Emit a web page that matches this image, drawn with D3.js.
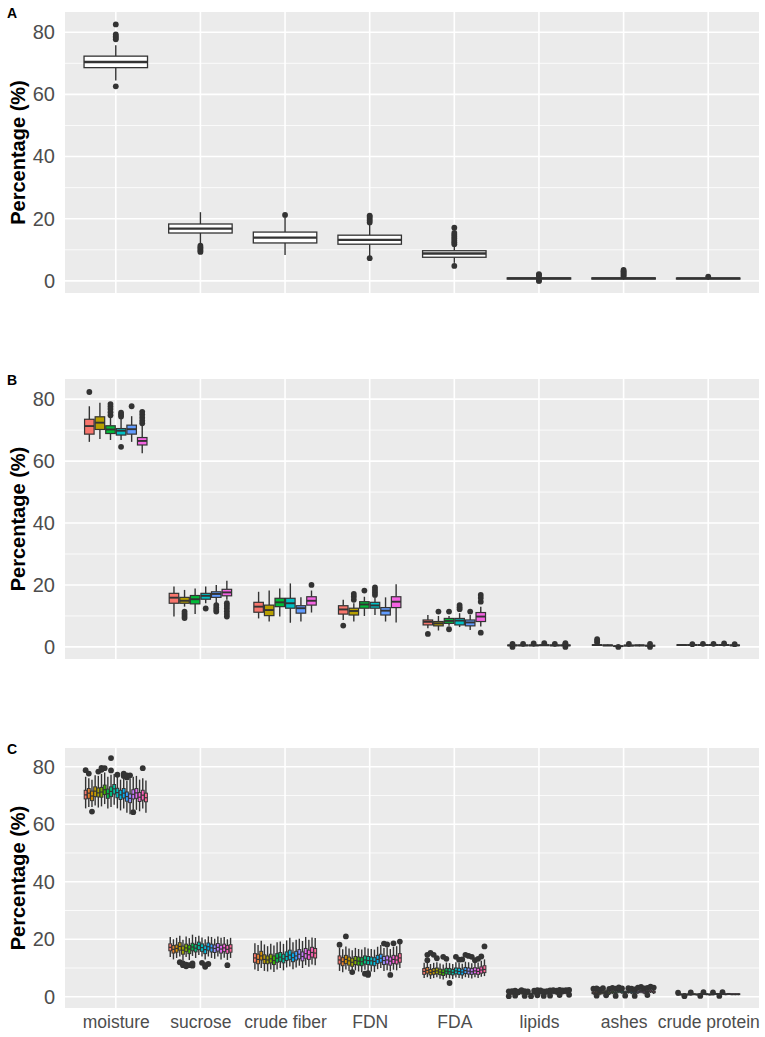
<!DOCTYPE html>
<html>
<head>
<meta charset="utf-8">
<script src="https://cdn.jsdelivr.net/npm/d3@7"></script>
<style>
  html, body { margin: 0; padding: 0; background: #fff; }
  svg { display: block; font-family: "Liberation Sans", Arial, Helvetica, sans-serif; }
</style>
</head>
<body>
<svg id="chart" width="765" height="1037"></svg>
<script>
// ---------------- DATA ----------------
const categories = ["moisture", "sucrose", "crude fiber", "FDN", "FDA", "lipids", "ashes", "crude protein"];
const yTicks = [0, 20, 40, 60, 80];
const yMinor = [10, 30, 50, 70];
const panelLabels = ["A", "B", "C"];
const yTitle = "Percentage (%)";

// Panel A: one box per category  [category]
const loA  = [64.5, 12.0, 8.3, 8.0, 5.8, 0.3, 0.4, 0.4];
const q1A  = [68.6, 15.4, 12.2, 11.8, 7.6, 0.6, 0.6, 0.6];
const medA = [70.4, 16.8, 13.9, 13.2, 8.8, 0.8, 0.8, 0.8];
const q3A  = [72.3, 18.3, 15.7, 14.7, 9.7, 0.95, 0.95, 0.9];
const hiA  = [75.8, 22.1, 20.2, 18.3, 11.5, 1.3, 1.3, 1.2];
const outA = [
  [62.6, 77.7, 78.2, 78.7, 79.3, 82.5],
  [9.3, 9.8, 10.3, 10.8, 11.3],
  [21.2],
  [7.3, 18.8, 19.4, 20.0, 20.6, 21.0],
  [4.8, 11.8, 12.4, 13.0, 13.6, 14.2, 14.8, 15.4, 17.1],
  [0.0, 0.1, 1.6, 1.9, 2.2],
  [1.5, 1.9, 2.3, 2.7, 3.1, 3.5],
  [1.4]
];

// Panel B: six groups per category  [category][group]
const loB = [
  [66.2, 67.1, 66.8, 66.8, 66.2, 62.5],
  [9.8, 13.0, 10.6, 14.1, 14.1, 15.2],
  [9.2, 8.2, 9.8, 7.8, 8.2, 11.1],
  [8.7, 8.2, 10.0, 10.3, 8.2, 7.9],
  [6.0, 5.3, 6.8, 6.4, 5.5, 6.6],
  [0.2, 0.2, 0.2, 0.3, 0.2, 0.2],
  [0.3, 0.3, 0.1, 0.2, 0.2, 0.1],
  [0.3, 0.4, 0.4, 0.4, 0.4, 0.3]
];
const q1B = [
  [68.7, 70.2, 68.9, 68.4, 68.7, 65.2],
  [14.1, 14.1, 13.9, 15.4, 16.0, 16.5],
  [11.2, 10.1, 13.0, 12.5, 10.9, 13.5],
  [10.6, 10.3, 12.5, 12.5, 10.3, 12.7],
  [7.1, 6.8, 7.6, 7.1, 6.8, 8.2],
  [0.4, 0.4, 0.4, 0.45, 0.4, 0.4],
  [0.5, 0.4, 0.2, 0.35, 0.4, 0.3],
  [0.5, 0.55, 0.5, 0.5, 0.5, 0.45]
];
const medB = [
  [71.3, 72.4, 70.2, 69.8, 70.3, 66.5],
  [15.9, 14.9, 15.4, 16.5, 17.1, 17.6],
  [13.0, 11.9, 14.4, 14.1, 12.5, 14.9],
  [12.1, 11.6, 13.7, 13.4, 11.7, 14.6],
  [8.1, 7.6, 8.4, 8.5, 7.9, 9.8],
  [0.5, 0.5, 0.5, 0.55, 0.5, 0.5],
  [0.6, 0.5, 0.25, 0.45, 0.5, 0.4],
  [0.6, 0.6, 0.6, 0.6, 0.6, 0.5]
];
const q3B = [
  [73.5, 74.3, 71.4, 70.5, 71.6, 67.6],
  [17.3, 16.0, 16.6, 17.3, 17.8, 18.6],
  [14.4, 13.5, 15.7, 15.7, 13.3, 16.2],
  [13.3, 12.5, 14.6, 14.4, 12.7, 16.2],
  [8.7, 8.2, 9.2, 9.2, 8.7, 11.1],
  [0.6, 0.6, 0.6, 0.65, 0.6, 0.6],
  [0.7, 0.6, 0.3, 0.55, 0.6, 0.5],
  [0.7, 0.7, 0.7, 0.7, 0.7, 0.6]
];
const hiB = [
  [77.7, 78.8, 74.2, 73.6, 74.5, 71.4],
  [19.5, 18.4, 18.9, 19.5, 20.0, 21.4],
  [17.8, 18.2, 18.9, 20.5, 16.0, 18.2],
  [15.2, 14.1, 16.2, 16.0, 16.0, 20.2],
  [10.3, 10.0, 10.0, 10.9, 10.3, 13.0],
  [0.8, 0.8, 0.8, 0.9, 0.8, 0.8],
  [0.9, 0.8, 0.4, 0.7, 0.8, 0.7],
  [0.9, 0.9, 0.9, 0.9, 0.9, 0.8]
];
const outB = [
  [[82.3], [], [74.8, 75.8, 76.8, 77.6, 78.4], [64.6, 74.4, 75.0, 75.6], [77.7], [72.2, 73.0, 74.0, 75.0, 75.9]],
  [[], [9.3, 10.0, 10.7, 11.4], [], [12.4], [11.4, 12.0, 12.7, 13.5], [9.8, 10.6, 11.5, 12.4, 13.3, 14.1]],
  [[], [], [], [], [], [20.0]],
  [[6.9], [15.2, 16.2, 17.1], [18.2], [16.8, 17.6, 18.4, 19.2], [], []],
  [[4.2], [11.4], [5.7, 11.4], [12.2, 12.8, 13.5], [11.4], [4.6, 14.6, 15.8, 16.8]],
  [[0.0, 1.0], [1.0], [1.1], [1.2], [1.0], [0.0, 0.9, 1.2]],
  [[1.4, 1.9, 2.5], [], [0.0], [1.0], [], [1.0, 0.0]],
  [[], [0.9], [1.0], [1.0], [1.1], [0.9]]
];

// Panel C: twenty groups per category  [category][group]
const loC = [
  [65.5, 66.0, 66.0, 66.5, 65.8, 66.2, 67.0, 65.5, 66.0, 66.8, 65.5, 64.8, 65.5, 64.0, 63.5, 65.0, 65.0, 64.5, 65.5, 64.0],
  [13.8, 13.0, 13.5, 14.0, 12.5, 13.8, 12.8, 14.2, 13.5, 14.5, 14.0, 13.0, 14.0, 13.5, 13.2, 14.0, 13.0, 13.6, 12.8, 13.5],
  [9.5, 9.0, 10.0, 9.0, 8.8, 9.5, 8.6, 9.5, 10.0, 9.2, 10.2, 10.5, 9.6, 10.2, 10.8, 10.0, 11.0, 10.4, 11.2, 11.0],
  [9.0, 8.5, 9.5, 9.0, 9.2, 9.2, 8.8, 8.5, 9.4, 9.0, 8.8, 8.6, 9.6, 10.0, 9.0, 9.2, 8.8, 9.4, 9.2, 10.0],
  [6.5, 6.8, 6.2, 6.5, 6.8, 6.3, 6.0, 6.6, 6.4, 6.2, 6.7, 6.5, 6.3, 6.8, 6.6, 6.4, 6.8, 6.5, 7.0, 7.2],
  [0.5, 0.6, 0.7, 0.5, 0.8, 0.7, 0.6, 0.5, 0.7, 0.9, 0.8, 0.6, 0.7, 0.8, 0.9, 0.7, 1.0, 0.8, 0.9, 1.0],
  [0.7, 0.9, 0.5, 0.8, 1.1, 0.6, 0.9, 0.7, 1.2, 1.0, 0.8, 1.1, 0.9, 0.7, 1.0, 1.2, 0.9, 1.1, 1.3, 1.0],
  [0.45, 0.45, 0.55, 0.45, 0.45, 0.55, 0.45, 0.55, 0.65, 0.55, 0.45, 0.55, 0.65, 0.55, 0.65, 0.55, 0.65, 0.55, 0.55, 0.55]
];
const q1C = [
  [68.8, 69.0, 68.2, 69.6, 69.5, 69.4, 70.3, 69.0, 69.6, 70.5, 69.2, 68.6, 69.1, 68.0, 67.5, 68.8, 69.0, 67.9, 68.4, 67.8],
  [16.0, 15.2, 15.5, 16.2, 14.8, 15.8, 15.0, 16.0, 15.6, 16.4, 15.8, 15.0, 16.2, 15.6, 15.4, 15.9, 15.2, 15.7, 15.1, 15.5],
  [12.0, 11.5, 12.8, 11.6, 11.5, 11.8, 11.2, 12.0, 12.3, 11.8, 12.6, 13.0, 12.2, 12.8, 13.2, 12.5, 13.4, 13.0, 13.8, 13.5],
  [11.4, 10.8, 11.6, 11.0, 10.6, 11.2, 11.0, 10.8, 11.4, 11.2, 11.0, 10.8, 11.6, 12.0, 11.2, 11.4, 11.0, 11.6, 11.4, 12.0],
  [7.8, 8.2, 7.6, 7.8, 8.0, 7.7, 7.4, 7.9, 7.8, 7.6, 8.0, 7.8, 7.6, 8.1, 7.9, 7.8, 8.0, 7.8, 8.2, 8.4],
  [0.8, 0.9, 1.0, 0.8, 1.1, 1.0, 0.9, 0.8, 1.0, 1.2, 1.1, 0.9, 1.0, 1.1, 1.2, 1.0, 1.3, 1.1, 1.2, 1.3],
  [1.1, 1.3, 0.9, 1.2, 1.5, 1.0, 1.3, 1.1, 1.6, 1.4, 1.2, 1.5, 1.3, 1.1, 1.4, 1.6, 1.3, 1.5, 1.7, 1.4],
  [0.65, 0.65, 0.75, 0.65, 0.65, 0.75, 0.65, 0.75, 0.85, 0.75, 0.65, 0.75, 0.85, 0.75, 0.85, 0.75, 0.85, 0.75, 0.75, 0.75]
];
const medC = [
  [70.2, 70.8, 69.8, 71.5, 70.9, 71.2, 72.0, 70.6, 71.4, 72.3, 71.0, 70.2, 70.8, 69.6, 69.0, 70.4, 70.9, 69.4, 70.1, 69.2],
  [17.2, 16.5, 16.8, 17.5, 16.2, 17.0, 16.6, 17.3, 16.9, 17.8, 17.1, 16.4, 17.4, 17.0, 16.8, 17.2, 16.6, 17.0, 16.5, 16.9],
  [13.5, 13.0, 14.2, 13.0, 12.8, 13.2, 12.6, 13.4, 13.8, 13.2, 14.0, 14.5, 13.6, 14.2, 14.8, 14.0, 15.0, 14.6, 15.4, 15.2],
  [12.8, 12.2, 13.0, 12.5, 12.0, 12.6, 12.4, 12.2, 12.8, 12.6, 12.5, 12.3, 13.0, 13.4, 12.6, 12.8, 12.4, 13.0, 12.8, 13.5],
  [8.8, 9.2, 8.5, 8.8, 9.0, 8.6, 8.4, 8.9, 8.7, 8.5, 9.0, 8.8, 8.6, 9.1, 8.9, 8.7, 9.0, 8.8, 9.3, 9.5],
  [1.0, 1.1, 1.2, 1.0, 1.3, 1.2, 1.1, 1.0, 1.2, 1.4, 1.3, 1.1, 1.2, 1.3, 1.4, 1.2, 1.5, 1.3, 1.4, 1.5],
  [1.4, 1.6, 1.2, 1.5, 1.8, 1.3, 1.6, 1.4, 1.9, 1.7, 1.5, 1.8, 1.6, 1.4, 1.7, 1.9, 1.6, 1.8, 2.0, 1.7],
  [0.8, 0.8, 0.9, 0.8, 0.8, 0.9, 0.8, 0.9, 1.0, 0.9, 0.8, 0.9, 1.0, 0.9, 1.0, 0.9, 1.0, 0.9, 0.9, 0.9]
];
const q3C = [
  [71.8, 72.4, 71.5, 73.0, 72.6, 72.8, 73.6, 72.2, 73.0, 73.8, 72.5, 71.8, 72.4, 71.2, 70.5, 72.0, 72.4, 71.0, 71.8, 70.8],
  [18.4, 17.8, 18.0, 18.8, 17.6, 18.3, 17.9, 18.6, 18.2, 19.0, 18.4, 17.7, 18.7, 18.3, 18.0, 18.5, 17.9, 18.3, 17.8, 18.1],
  [15.0, 14.8, 15.8, 14.6, 14.2, 14.8, 14.2, 15.0, 15.4, 14.8, 15.6, 16.2, 15.2, 15.8, 16.4, 15.6, 16.8, 16.2, 17.2, 16.8],
  [14.2, 13.6, 14.4, 13.8, 13.4, 14.0, 13.8, 13.6, 14.2, 14.0, 13.8, 13.6, 14.4, 14.8, 14.0, 14.2, 13.8, 14.4, 14.2, 15.0],
  [9.8, 10.2, 9.5, 9.8, 10.0, 9.6, 9.4, 9.9, 9.8, 9.5, 10.0, 9.9, 9.6, 10.2, 10.0, 9.8, 10.1, 9.9, 10.4, 10.8],
  [1.2, 1.3, 1.4, 1.2, 1.5, 1.4, 1.3, 1.2, 1.4, 1.6, 1.5, 1.3, 1.4, 1.5, 1.6, 1.4, 1.7, 1.5, 1.6, 1.7],
  [1.7, 1.9, 1.5, 1.8, 2.1, 1.6, 1.9, 1.7, 2.2, 2.0, 1.8, 2.1, 1.9, 1.7, 2.0, 2.2, 1.9, 2.1, 2.3, 2.0],
  [0.95, 0.95, 1.05, 0.95, 0.95, 1.05, 0.95, 1.05, 1.15, 1.05, 0.95, 1.05, 1.15, 1.05, 1.15, 1.05, 1.15, 1.05, 1.05, 1.05]
];
const hiC = [
  [76.5, 76.0, 75.5, 77.0, 76.8, 77.5, 78.0, 76.5, 77.2, 77.5, 76.8, 75.5, 76.5, 75.0, 76.0, 76.5, 76.8, 75.5, 76.0, 75.2],
  [20.8, 20.0, 20.5, 21.2, 19.8, 21.0, 20.4, 21.6, 20.8, 21.2, 20.6, 20.0, 21.0, 20.8, 20.2, 21.0, 20.5, 20.8, 20.0, 20.5],
  [18.6, 18.0, 19.5, 18.2, 17.6, 18.4, 17.8, 19.0, 19.2, 18.4, 19.6, 20.5, 19.0, 19.8, 20.2, 19.4, 20.8, 19.8, 20.6, 20.4],
  [17.0, 16.5, 17.5, 16.8, 16.2, 17.0, 16.6, 16.4, 17.2, 16.8, 16.6, 16.4, 17.4, 18.0, 17.0, 17.2, 16.6, 17.4, 17.6, 18.4],
  [11.8, 12.2, 11.4, 11.8, 12.0, 11.6, 11.2, 11.9, 11.7, 11.4, 12.0, 11.8, 11.5, 12.2, 12.0, 11.7, 12.1, 11.9, 12.5, 13.0],
  [1.5, 1.6, 1.7, 1.5, 1.8, 1.7, 1.6, 1.5, 1.7, 1.9, 1.8, 1.6, 1.7, 1.8, 1.9, 1.7, 2.0, 1.8, 1.9, 2.0],
  [2.1, 2.3, 1.9, 2.2, 2.5, 2.0, 2.3, 2.1, 2.6, 2.4, 2.2, 2.5, 2.3, 2.1, 2.4, 2.6, 2.3, 2.5, 2.7, 2.4],
  [1.15, 1.15, 1.25, 1.15, 1.15, 1.25, 1.15, 1.25, 1.35, 1.25, 1.15, 1.25, 1.35, 1.25, 1.35, 1.25, 1.35, 1.25, 1.25, 1.25]
];
const outC = [
  [[78.8], [77.6], [64.4], [], [78.3], [78.9, 79.6], [79.5], [], [78.7, 83.0], [], [77.2], [], [76.8, 77.6], [76.2, 77.0], [77.0], [64.2], [], [], [79.5], []],
  [[], [], [], [12.0], [11.0, 11.6], [10.6, 11.2], [11.0], [10.8, 11.6], [], [], [11.8], [10.4, 11.0], [11.4], [], [], [], [], [], [11.0], []],
  [[], [], [], [], [], [], [], [], [], [], [], [], [], [], [], [], [], [], [], []],
  [[18.1], [], [21.0], [], [8.6], [], [], [], [8.0], [8.2, 7.6], [], [], [], [], [18.5], [18.2], [7.6], [18.6], [], [19.2]],
  [[], [14.6, 12.7], [15.3], [14.6], [13.4], [], [13.9], [13.2], [4.8], [], [13.9], [12.9], [13.0], [14.6], [14.2], [13.9], [12.7], [13.2], [14.0], [17.5]],
  [[0.2, 1.9], [2.0], [0.4, 2.1], [1.8], [2.3], [0.3, 2.0], [1.9], [0.2], [2.1], [0.5, 2.3], [2.2], [0.3, 1.9], [2.0], [0.4, 2.2], [2.3], [2.1], [0.6, 2.4], [2.2], [2.3], [0.7, 2.4]],
  [[2.8], [0.4, 2.9], [2.5], [3.0], [0.5], [2.7], [3.1], [0.3, 2.8], [3.3], [2.9], [0.4], [3.0], [2.8], [0.3, 2.6], [3.2], [3.4], [2.9], [0.6, 3.1], [3.5], [3.2]],
  [[1.4], [], [0.2], [], [1.5], [], [], [0.3], [1.6], [], [], [1.5], [], [0.3], [1.6], [], [], [], [], []]
];

// ---------------- COLOURS (ggplot2 hue palette, polarLUV) ----------------
function hclToHex(h, c, l) {
  const hr = h * Math.PI / 180;
  const U = c * Math.cos(hr), V = c * Math.sin(hr);
  const Xn = 95.047, Yn = 100, Zn = 108.883;
  const den = Xn + 15 * Yn + 3 * Zn;
  const un = 4 * Xn / den, vn = 9 * Yn / den;
  const Y = l > 8 ? Yn * Math.pow((l + 16) / 116, 3) : Yn * l / 903.3;
  const u = U / (13 * l) + un, v = V / (13 * l) + vn;
  const X = 9 * Y * u / (4 * v);
  const Z = -X / 3 - 5 * Y + 3 * Y / v;
  const x = X / 100, y = Y / 100, z = Z / 100;
  const lin = [
    3.240479 * x - 1.537150 * y - 0.498535 * z,
    -0.969256 * x + 1.875992 * y + 0.041556 * z,
    0.055648 * x - 0.204043 * y + 1.057311 * z
  ];
  const g = lin.map(t => {
    const s = t <= 0.0031308 ? 12.92 * t : 1.055 * Math.pow(t, 1 / 2.4) - 0.055;
    return Math.max(0, Math.min(255, Math.round(s * 255)));
  });
  return d3.rgb(g[0], g[1], g[2]).formatHex();
}
function huePal(n) {
  const out = [];
  for (let i = 0; i < n; i++) out.push(hclToHex(15 + 360 * i / n, 100, 65));
  return out;
}

// ---------------- LAYOUT ----------------
const svg = d3.select("#chart");
const plotLeft = 65, plotRight = 759;
const yDomain = [-3.9, 86.5];
const panels = [
  { label: panelLabels[0], top: 12, bottom: 293, lo: loA.map(v => [v]), q1: q1A.map(v => [v]), med: medA.map(v => [v]), q3: q3A.map(v => [v]), hi: hiA.map(v => [v]), out: outA.map(v => [v]), n: 1, fills: ["#ffffff"], boxStroke: 1.3, medStroke: 2.4, whiskStroke: 1.4, r: 2.9, showX: false },
  { label: panelLabels[1], top: 379, bottom: 659, lo: loB, q1: q1B, med: medB, q3: q3B, hi: hiB, out: outB, n: 6, fills: huePal(6), boxStroke: 1.2, medStroke: 1.9, whiskStroke: 1.4, r: 2.9, showX: false },
  { label: panelLabels[2], top: 748, bottom: 1008, lo: loC, q1: q1C, med: medC, q3: q3C, hi: hiC, out: outC, n: 20, fills: huePal(20), boxStroke: 1.0, medStroke: 1.2, whiskStroke: 1.4, r: 2.9, showX: true }
];

const x = d3.scalePoint().domain(categories).range([plotLeft, plotRight]).padding(0.6);
const step = x.step();

panels.forEach(p => {
  const y = d3.scaleLinear().domain(yDomain).range([p.bottom, p.top]);
  const g = svg.append("g");

  g.append("rect").attr("x", plotLeft).attr("y", p.top)
    .attr("width", plotRight - plotLeft).attr("height", p.bottom - p.top)
    .attr("fill", "#EBEBEB");

  g.selectAll(".minor").data(yMinor).enter().append("line")
    .attr("x1", plotLeft).attr("x2", plotRight)
    .attr("y1", d => y(d)).attr("y2", d => y(d))
    .attr("stroke", "#ffffff").attr("stroke-width", 0.8);
  g.selectAll(".major").data(yTicks).enter().append("line")
    .attr("x1", plotLeft).attr("x2", plotRight)
    .attr("y1", d => y(d)).attr("y2", d => y(d))
    .attr("stroke", "#ffffff").attr("stroke-width", 1.6);
  g.selectAll(".vmajor").data(categories).enter().append("line")
    .attr("x1", d => x(d)).attr("x2", d => x(d))
    .attr("y1", p.top).attr("y2", p.bottom)
    .attr("stroke", "#ffffff").attr("stroke-width", 1.6);

  const yAxis = d3.axisLeft(y).tickValues(yTicks).tickSize(0).tickPadding(0).tickFormat(d3.format("d"));
  const ya = g.append("g").attr("transform", `translate(${plotLeft - 10},0)`).call(yAxis);
  ya.select(".domain").remove();
  ya.selectAll("text").attr("fill", "#4D4D4D").style("font-size", "20px")
    .style("font-family", '"Liberation Sans", Arial, Helvetica, sans-serif');

  g.append("text")
    .attr("transform", `translate(18,${(p.top + p.bottom) / 2}) rotate(-90)`)
    .attr("text-anchor", "middle").attr("dy", "0.36em")
    .attr("font-weight", "bold").attr("font-size", 20).attr("fill", "#000")
    .text(yTitle);

  g.append("text").attr("x", 7).attr("y", p.top + 6)
    .attr("font-weight", "bold").attr("font-size", 14).attr("fill", "#000")
    .text(p.label);

  const slot = 0.75 * step / p.n;
  const bw = p.n === 1 ? slot : slot * 0.9;
  categories.forEach((cat, ci) => {
    for (let gi = 0; gi < p.n; gi++) {
      const cx = x(cat) - 0.375 * step + (gi + 0.5) * slot;
      const lo = p.lo[ci][gi], q1 = p.q1[ci][gi], md = p.med[ci][gi], q3 = p.q3[ci][gi], hi = p.hi[ci][gi];
      const bg = g.append("g");
      bg.append("line").attr("x1", cx).attr("x2", cx).attr("y1", y(q3)).attr("y2", y(hi))
        .attr("stroke", "#333333").attr("stroke-width", p.whiskStroke);
      bg.append("line").attr("x1", cx).attr("x2", cx).attr("y1", y(q1)).attr("y2", y(lo))
        .attr("stroke", "#333333").attr("stroke-width", p.whiskStroke);
      bg.append("rect").attr("x", cx - bw / 2).attr("width", bw)
        .attr("y", y(q3)).attr("height", Math.max(0, y(q1) - y(q3)))
        .attr("fill", p.fills[gi]).attr("stroke", "#333333").attr("stroke-width", p.boxStroke);
      bg.append("line").attr("x1", cx - bw / 2).attr("x2", cx + bw / 2)
        .attr("y1", y(md)).attr("y2", y(md))
        .attr("stroke", "#333333").attr("stroke-width", p.medStroke);
      bg.selectAll("circle").data(p.out[ci][gi]).enter().append("circle")
        .attr("cx", cx).attr("cy", d => y(d)).attr("r", p.r)
        .attr("fill", "#333333");
    }
  });

  if (p.showX) {
    const xAxis = d3.axisBottom(x).tickSize(0).tickPadding(0);
    const xa = g.append("g").attr("transform", `translate(0,${p.bottom + 8})`).call(xAxis);
    xa.select(".domain").remove();
    xa.selectAll("text").attr("fill", "#4D4D4D").style("font-size", "17.5px")
      .style("font-family", '"Liberation Sans", Arial, Helvetica, sans-serif');
  }
});
</script>
</body>
</html>
